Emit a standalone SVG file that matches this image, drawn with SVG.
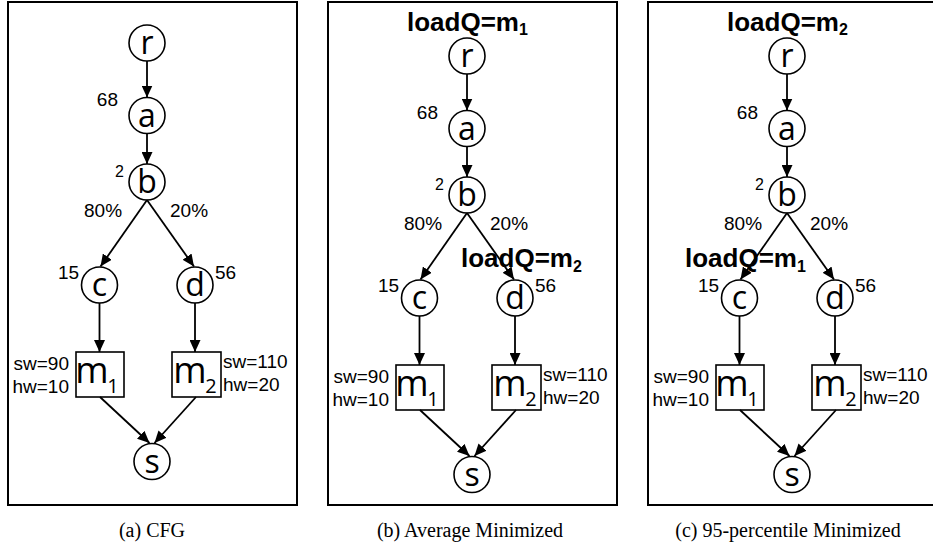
<svg xmlns="http://www.w3.org/2000/svg" width="933" height="547" viewBox="0 0 933 547">
<style>
.frame{fill:none;stroke:#000;stroke-width:2}
.node circle{fill:#fff;stroke:#000;stroke-width:1.6}
.node rect{fill:#fff;stroke:#000;stroke-width:1.6}
.nl{font-family:"Open Sans","DejaVu Sans",sans-serif;font-size:32px;text-anchor:middle;fill:#000}
.ml{font-family:"Open Sans","DejaVu Sans",sans-serif;font-size:36px;text-anchor:middle;fill:#000}
.ms{font-family:"Open Sans","DejaVu Sans",sans-serif;font-size:20px;text-anchor:middle;fill:#000}
.lb{font-family:"Liberation Sans",Arial,sans-serif;font-size:19px;fill:#000}
.sup{font-family:"Liberation Sans",Arial,sans-serif;font-size:16px;fill:#000}
.lq{font-family:"Liberation Sans",Arial,sans-serif;font-size:26px;font-weight:bold;fill:#000}
.lqs{font-size:16px}
.cap{font-family:"Liberation Serif","Times New Roman",serif;font-size:20px;text-anchor:middle;fill:#000}
.edge{stroke:#000;stroke-width:1.8;fill:none;marker-end:url(#ah)}
</style>
<defs>
<marker id="ah" markerUnits="userSpaceOnUse" markerWidth="12" markerHeight="11" refX="12" refY="5.5" orient="auto">
<path d="M0,0 L12,5.5 L0,11 Z" fill="#000"/>
</marker>
</defs>

<g id="frames">
<rect class="frame" x="8" y="2" width="289" height="503"/>
<rect class="frame" x="328" y="2" width="289" height="503"/>
<rect class="frame" x="648" y="2" width="300" height="503"/>
</g>

<g id="titles">
<text class="lq" x="407" y="31">loadQ=m<tspan class="lqs" dy="4">1</tspan></text>
<text class="lq" x="461" y="267">loadQ=m<tspan class="lqs" dy="5">2</tspan></text>
<text class="lq" x="727" y="31">loadQ=m<tspan class="lqs" dy="4">2</tspan></text>
<text class="lq" x="685" y="267">loadQ=m<tspan class="lqs" dy="5">1</tspan></text>
</g>

<!-- Panel (a) -->
<g id="panel-a">
<g class="labels">
<text class="lb" x="118" y="106" text-anchor="end">68</text>
<text class="sup" x="115" y="177">2</text>
<text class="lb" x="84" y="217">80%</text>
<text class="lb" x="170" y="217">20%</text>
<text class="lb" x="58" y="279">15</text>
<text class="lb" x="215" y="279">56</text>
<text class="lb" x="69" y="370" text-anchor="end">sw=90</text>
<text class="lb" x="69" y="393" text-anchor="end">hw=10</text>
<text class="lb" x="223" y="368">sw=110</text>
<text class="lb" x="223" y="391">hw=20</text>
</g>
<g id="a-r" class="node"><circle cx="147" cy="43" r="18"/><text class="nl" x="147" y="54">r</text></g>
<g id="a-a" class="node"><circle cx="147" cy="115.5" r="18"/><text class="nl" x="147" y="127">a</text></g>
<g id="a-b" class="node"><circle cx="147" cy="182" r="18"/><text class="nl" x="147" y="193">b</text></g>
<g id="a-c" class="node"><circle cx="99.5" cy="285" r="18"/><text class="nl" x="99.5" y="296">c</text></g>
<g id="a-d" class="node"><circle cx="195" cy="285" r="18"/><text class="nl" x="195" y="296">d</text></g>
<g id="a-m1" class="node"><rect x="76" y="352" width="48" height="45"/><text class="ml" x="92" y="383">m</text><text class="ms" x="113" y="393">1</text></g>
<g id="a-m2" class="node"><rect x="172" y="352" width="49" height="45"/><text class="ml" x="190" y="383">m</text><text class="ms" x="211" y="393">2</text></g>
<g id="a-s" class="node"><circle cx="152" cy="461.5" r="18"/><text class="nl" x="152" y="472.5">s</text></g>
</g>

<!-- Panel (b) -->
<g id="panel-b" transform="translate(320,13)">
<g class="labels">
<text class="lb" x="118" y="106" text-anchor="end">68</text>
<text class="sup" x="115" y="177">2</text>
<text class="lb" x="84" y="217">80%</text>
<text class="lb" x="170" y="217">20%</text>
<text class="lb" x="58" y="279">15</text>
<text class="lb" x="215" y="279">56</text>
<text class="lb" x="69" y="370" text-anchor="end">sw=90</text>
<text class="lb" x="69" y="393" text-anchor="end">hw=10</text>
<text class="lb" x="223" y="368">sw=110</text>
<text class="lb" x="223" y="391">hw=20</text>
</g>
<g id="b-r" class="node"><circle cx="147" cy="43" r="18"/><text class="nl" x="147" y="54">r</text></g>
<g id="b-a" class="node"><circle cx="147" cy="115.5" r="18"/><text class="nl" x="147" y="127">a</text></g>
<g id="b-b" class="node"><circle cx="147" cy="182" r="18"/><text class="nl" x="147" y="193">b</text></g>
<g id="b-c" class="node"><circle cx="99.5" cy="285" r="18"/><text class="nl" x="99.5" y="296">c</text></g>
<g id="b-d" class="node"><circle cx="195" cy="285" r="18"/><text class="nl" x="195" y="296">d</text></g>
<g id="b-m1" class="node"><rect x="76" y="352" width="48" height="45"/><text class="ml" x="92" y="383">m</text><text class="ms" x="113" y="393">1</text></g>
<g id="b-m2" class="node"><rect x="172" y="352" width="49" height="45"/><text class="ml" x="190" y="383">m</text><text class="ms" x="211" y="393">2</text></g>
<g id="b-s" class="node"><circle cx="152" cy="461.5" r="18"/><text class="nl" x="152" y="472.5">s</text></g>
</g>

<!-- Panel (c) -->
<g id="panel-c" transform="translate(640,13)">
<g class="labels">
<text class="lb" x="118" y="106" text-anchor="end">68</text>
<text class="sup" x="115" y="177">2</text>
<text class="lb" x="84" y="217">80%</text>
<text class="lb" x="170" y="217">20%</text>
<text class="lb" x="58" y="279">15</text>
<text class="lb" x="215" y="279">56</text>
<text class="lb" x="69" y="370" text-anchor="end">sw=90</text>
<text class="lb" x="69" y="393" text-anchor="end">hw=10</text>
<text class="lb" x="223" y="368">sw=110</text>
<text class="lb" x="223" y="391">hw=20</text>
</g>
<g id="c-r" class="node"><circle cx="147" cy="43" r="18"/><text class="nl" x="147" y="54">r</text></g>
<g id="c-a" class="node"><circle cx="147" cy="115.5" r="18"/><text class="nl" x="147" y="127">a</text></g>
<g id="c-b" class="node"><circle cx="147" cy="182" r="18"/><text class="nl" x="147" y="193">b</text></g>
<g id="c-c" class="node"><circle cx="99.5" cy="285" r="18"/><text class="nl" x="99.5" y="296">c</text></g>
<g id="c-d" class="node"><circle cx="195" cy="285" r="18"/><text class="nl" x="195" y="296">d</text></g>
<g id="c-m1" class="node"><rect x="76" y="352" width="48" height="45"/><text class="ml" x="92" y="383">m</text><text class="ms" x="113" y="393">1</text></g>
<g id="c-m2" class="node"><rect x="172" y="352" width="49" height="45"/><text class="ml" x="190" y="383">m</text><text class="ms" x="211" y="393">2</text></g>
<g id="c-s" class="node"><circle cx="152" cy="461.5" r="18"/><text class="nl" x="152" y="472.5">s</text></g>
</g>

<g id="connectors">
<g id="edges-a">
<line class="edge" x1="147" y1="61" x2="147" y2="97.5"/>
<line class="edge" x1="147" y1="133.5" x2="147" y2="164"/>
<line class="edge" x1="147" y1="200" x2="100.5" y2="266.5"/>
<line class="edge" x1="147" y1="200" x2="194" y2="266.5"/>
<line class="edge" x1="99.5" y1="303" x2="99.5" y2="352"/>
<line class="edge" x1="195" y1="303" x2="195" y2="352"/>
<line class="edge" x1="100" y1="397" x2="149.5" y2="443"/>
<line class="edge" x1="196" y1="397" x2="154.5" y2="443"/>
</g>
<g id="edges-b" transform="translate(320,13)">
<line class="edge" x1="147" y1="61" x2="147" y2="97.5"/>
<line class="edge" x1="147" y1="133.5" x2="147" y2="164"/>
<line class="edge" x1="147" y1="200" x2="100.5" y2="266.5"/>
<line class="edge" x1="147" y1="200" x2="194" y2="266.5"/>
<line class="edge" x1="99.5" y1="303" x2="99.5" y2="352"/>
<line class="edge" x1="195" y1="303" x2="195" y2="352"/>
<line class="edge" x1="100" y1="397" x2="149.5" y2="443"/>
<line class="edge" x1="196" y1="397" x2="154.5" y2="443"/>
</g>
<g id="edges-c" transform="translate(640,13)">
<line class="edge" x1="147" y1="61" x2="147" y2="97.5"/>
<line class="edge" x1="147" y1="133.5" x2="147" y2="164"/>
<line class="edge" x1="147" y1="200" x2="100.5" y2="266.5"/>
<line class="edge" x1="147" y1="200" x2="194" y2="266.5"/>
<line class="edge" x1="99.5" y1="303" x2="99.5" y2="352"/>
<line class="edge" x1="195" y1="303" x2="195" y2="352"/>
<line class="edge" x1="100" y1="397" x2="149.5" y2="443"/>
<line class="edge" x1="196" y1="397" x2="154.5" y2="443"/>
</g>
</g>

<g id="captions">
<text class="cap" x="152" y="537">(a) CFG</text>
<text class="cap" x="470" y="537">(b) Average Minimized</text>
<text class="cap" x="788" y="537">(c) 95-percentile Minimized</text>
</g>
</svg>
